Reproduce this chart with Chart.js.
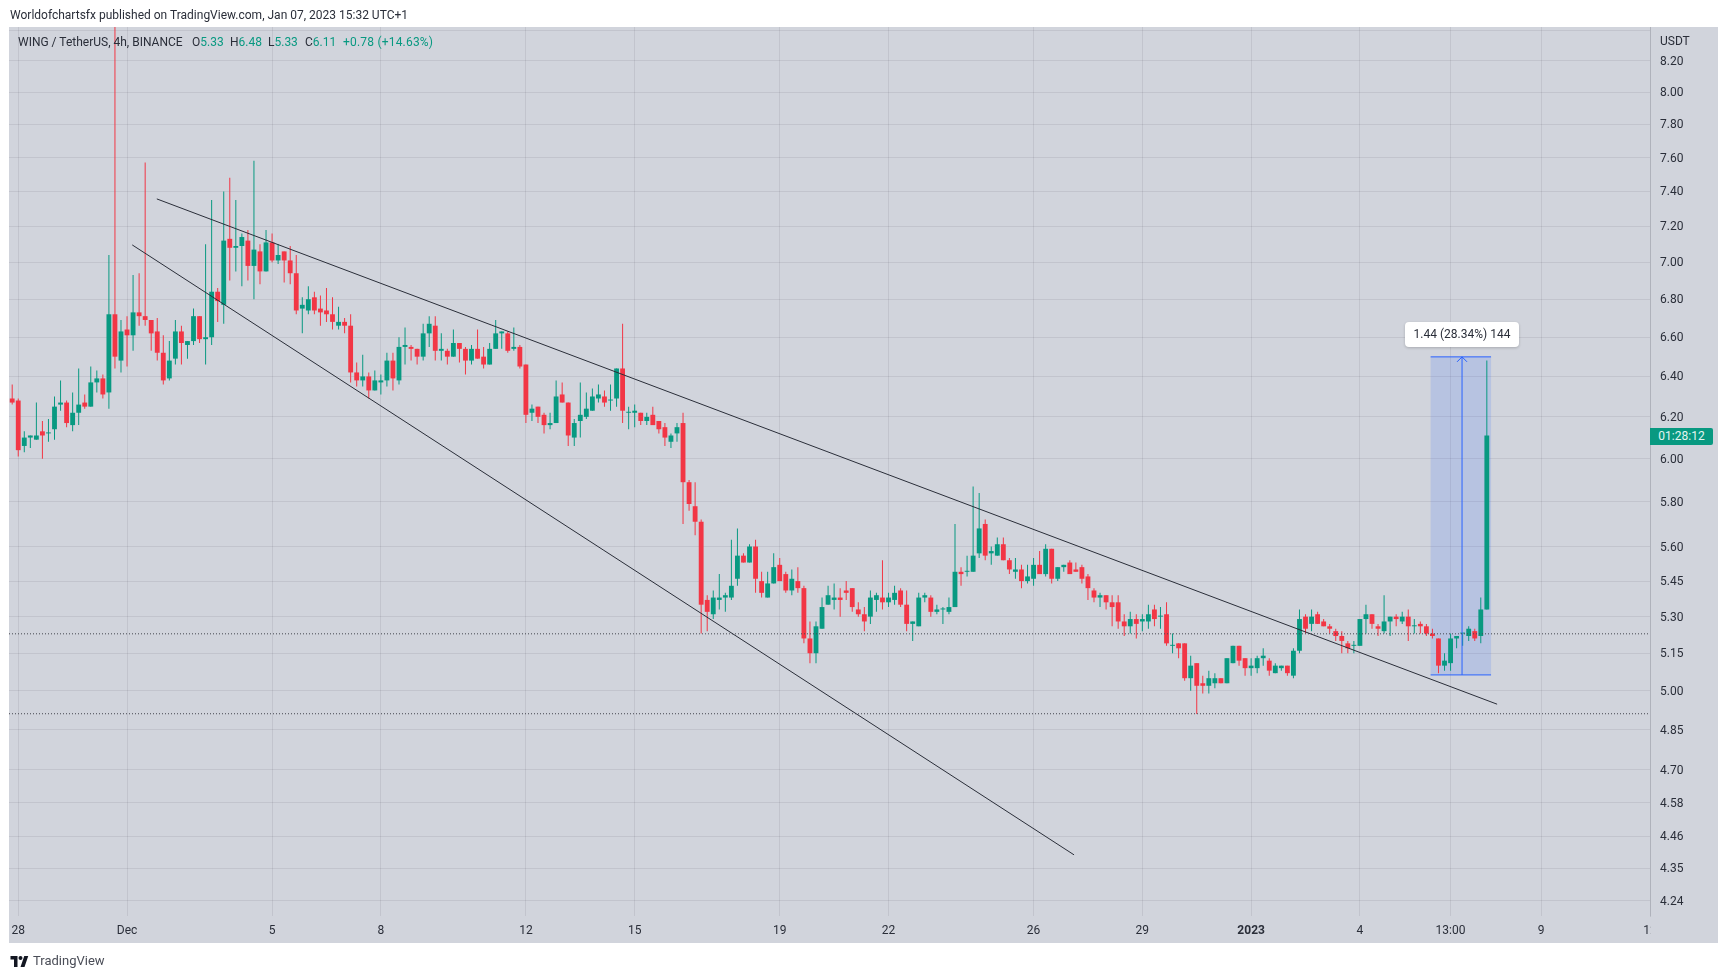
<!DOCTYPE html>
<html>
<head>
<meta charset="utf-8">
<title>WING / TetherUS</title>
<script src="https://cdn.jsdelivr.net/npm/chart.js"></script>
<style>
  html, body { margin: 0; padding: 0; background: #fff; overflow: hidden; }
  body { width: 1728px; height: 979px; position: relative; font-family: Roboto, sans-serif; font-size: 12px; color: #2a2e39; }
  canvas { position: absolute; left: 0; top: 0; }
  .abs { position: absolute; white-space: nowrap; line-height: 16px; }
  .up { color: #089981; }
  #measure { left: 1405px; top: 322px; width: 114px; height: 25px; line-height: 25px; text-align: center; background: #fff; border-radius: 4px; box-shadow: 0 1px 3px rgba(0,0,0,.2); }
  #countdown { left: 1650px; top: 428px; width: 63px; height: 17px; line-height: 17px; text-align: center; background: #089981; color: #e4f5f1; border-radius: 0 2px 2px 0; }
</style>
</head>
<body>
<canvas id="chart" width="1728" height="979"></canvas>
<div class="abs" style="left:10px;top:7px">Worldofchartsfx published on TradingView.com, Jan 07, 2023 15:32 UTC+1</div>
<div class="abs" style="left:18px;top:34px">WING / TetherUS, 4h, BINANCE</div>
<div class="abs" style="left:192px;top:34px">O<span class="up">5.33</span></div>
<div class="abs" style="left:230px;top:34px">H<span class="up">6.48</span></div>
<div class="abs" style="left:268px;top:34px">L<span class="up">5.33</span></div>
<div class="abs" style="left:305px;top:34px">C<span class="up">6.11</span></div>
<div class="abs up" style="left:343px;top:34px;letter-spacing:0.2px">+0.78 (+14.63%)</div>
<div class="abs" style="left:1660px;top:33px">USDT</div>
<div class="abs" id="measure">1.44 (28.34%) 144</div>
<div class="abs" id="countdown">01:28:12</div>
<svg class="abs" style="left:10px;top:956px" width="19" height="11" viewBox="0 0 36 22"><path fill="#131722" d="M14 22H7V7H0V0h14v22zM28 22h-8l7.5-22h8L28 22z"/><circle fill="#131722" cx="20" cy="4" r="4"/></svg>
<div class="abs" style="left:33px;top:953px;font-size:13px;color:#4a4d57">TradingView</div>
<script>
// candles are 4h apart, index 0 = Nov 28 00:00
const firstCandle = -1;
const opens = [
  6.29,6.28,6.06,6.10,6.09,6.13,6.12,6.14,6.26,6.27,
  6.16,6.22,6.27,6.25,6.37,6.39,6.32,6.72,6.48,6.64,
  6.61,6.73,6.71,6.69,6.63,6.52,6.39,6.49,6.63,6.56,
  6.58,6.71,6.59,6.60,6.84,6.77,7.13,7.08,7.09,7.12,
  6.98,7.06,6.95,7.11,7.01,7.06,7.01,6.94,6.75,6.74,
  6.81,6.75,6.74,6.72,6.66,6.68,6.66,6.42,6.38,6.40,
  6.33,6.37,6.38,6.48,6.38,6.55,6.55,6.54,6.50,6.62,
  6.66,6.53,6.53,6.50,6.57,6.54,6.48,6.54,6.50,6.46,
  6.54,6.62,6.62,6.54,6.55,6.46,6.22,6.25,6.21,6.16,
  6.17,6.31,6.27,6.10,6.18,6.20,6.23,6.29,6.30,6.28,
  6.29,6.44,6.22,6.22,6.22,6.18,6.21,6.18,6.15,6.08,
  6.12,6.17,5.89,5.78,5.71,5.37,5.31,5.37,5.38,5.38,
  5.46,5.56,5.53,5.60,5.45,5.38,5.44,5.52,5.48,5.41,
  5.45,5.42,5.21,5.15,5.25,5.35,5.37,5.38,5.41,5.42,
  5.33,5.31,5.30,5.37,5.38,5.36,5.37,5.41,5.35,5.27,
  5.26,5.38,5.38,5.32,5.33,5.32,5.34,5.49,5.49,5.49,
  5.57,5.70,5.57,5.56,5.61,5.54,5.49,5.50,5.45,5.46,
  5.52,5.48,5.59,5.46,5.51,5.53,5.50,5.51,5.47,5.41,
  5.38,5.39,5.36,5.36,5.28,5.26,5.29,5.28,5.28,5.33,
  5.30,5.31,5.18,5.19,5.19,5.05,5.11,5.03,5.02,5.03,
  5.05,5.03,5.11,5.18,5.13,5.09,5.09,5.13,5.12,5.07,
  5.09,5.10,5.06,5.16,5.30,5.27,5.31,5.28,5.26,5.24,
  5.22,5.19,5.18,5.18,5.29,5.31,5.26,5.24,5.28,5.30,
  5.28,5.30,5.26,5.27,5.26,5.23,5.21,5.10,5.11,5.21,
  5.23,5.22,5.24,5.22,5.33
];
const highs = [
  6.36,6.29,6.13,6.11,6.27,6.18,6.19,6.30,6.38,6.28,
  6.32,6.44,6.31,6.45,6.43,6.41,7.04,8.60,6.69,6.71,
  6.93,6.94,7.57,6.69,6.70,6.61,6.58,6.69,6.66,6.58,
  6.75,6.71,7.10,7.35,6.86,7.40,7.48,7.35,7.16,7.18,
  7.58,7.10,7.18,7.16,7.10,7.06,7.09,7.04,6.81,6.87,
  6.84,6.82,6.86,6.81,6.76,6.70,6.72,6.47,6.51,6.42,
  6.43,6.41,6.52,6.52,6.60,6.65,6.56,6.54,6.67,6.71,
  6.71,6.62,6.54,6.64,6.57,6.55,6.56,6.64,6.55,6.57,
  6.69,6.63,6.63,6.65,6.56,6.46,6.26,6.25,6.22,6.22,
  6.38,6.37,6.27,6.19,6.37,6.32,6.34,6.36,6.33,6.36,
  6.44,6.67,6.25,6.26,6.22,6.22,6.25,6.18,6.17,6.12,
  6.17,6.22,5.90,5.89,5.72,5.39,5.41,5.48,5.40,5.63,
  5.68,5.57,5.61,5.63,5.49,5.49,5.57,5.55,5.49,5.50,
  5.51,5.43,5.28,5.28,5.38,5.43,5.44,5.42,5.45,5.42,
  5.36,5.34,5.41,5.40,5.54,5.40,5.43,5.42,5.41,5.28,
  5.40,5.40,5.39,5.35,5.34,5.38,5.70,5.51,5.56,5.87,
  5.84,5.72,5.60,5.64,5.64,5.55,5.55,5.52,5.52,5.55,
  5.58,5.61,5.59,5.51,5.52,5.54,5.53,5.52,5.48,5.42,
  5.40,5.39,5.39,5.39,5.31,5.32,5.31,5.31,5.35,5.35,
  5.34,5.36,5.23,5.19,5.19,5.14,5.11,5.06,5.08,5.07,
  5.05,5.13,5.18,5.18,5.13,5.13,5.14,5.17,5.13,5.11,
  5.10,5.10,5.17,5.33,5.31,5.33,5.32,5.29,5.27,5.25,
  5.24,5.20,5.20,5.29,5.35,5.31,5.27,5.39,5.30,5.31,
  5.32,5.33,5.29,5.28,5.27,5.25,5.21,5.15,5.23,5.22,
  5.23,5.26,5.25,5.38,6.48
];
const lows = [
  6.26,6.01,6.03,6.05,6.09,6.00,6.08,6.09,6.23,6.15,
  6.13,6.16,6.24,6.25,6.32,6.29,6.24,6.44,6.42,6.45,
  6.53,6.66,6.66,6.53,6.48,6.36,6.38,6.46,6.46,6.49,
  6.56,6.57,6.46,6.56,6.68,6.67,6.90,6.95,6.87,6.90,
  6.80,6.88,6.95,7.00,6.99,6.89,6.88,6.72,6.62,6.72,
  6.72,6.66,6.68,6.64,6.64,6.62,6.37,6.35,6.35,6.29,
  6.33,6.31,6.35,6.33,6.36,6.46,6.48,6.46,6.48,6.55,
  6.48,6.48,6.46,6.50,6.47,6.41,6.46,6.49,6.44,6.46,
  6.54,6.54,6.52,6.53,6.44,6.17,6.18,6.17,6.12,6.14,
  6.17,6.27,6.06,6.06,6.10,6.19,6.23,6.27,6.25,6.23,
  6.25,6.17,6.14,6.15,6.16,6.16,6.16,6.12,6.06,6.05,
  6.08,5.70,5.76,5.65,5.23,5.24,5.29,5.33,5.32,5.37,
  5.43,5.53,5.53,5.40,5.38,5.38,5.44,5.45,5.40,5.39,
  5.40,5.19,5.11,5.11,5.25,5.35,5.33,5.30,5.37,5.32,
  5.30,5.24,5.27,5.32,5.33,5.34,5.35,5.34,5.24,5.20,
  5.26,5.36,5.30,5.31,5.27,5.31,5.34,5.43,5.47,5.49,
  5.55,5.54,5.52,5.56,5.54,5.48,5.46,5.42,5.44,5.43,
  5.48,5.47,5.44,5.45,5.49,5.48,5.49,5.44,5.37,5.36,
  5.34,5.33,5.26,5.25,5.22,5.23,5.21,5.24,5.25,5.26,
  5.25,5.18,5.15,5.13,5.04,5.00,4.91,4.99,4.99,5.01,
  5.03,5.03,5.11,5.10,5.06,5.06,5.07,5.10,5.06,5.07,
  5.08,5.06,5.05,5.15,5.23,5.24,5.27,5.26,5.23,5.20,
  5.15,5.15,5.15,5.18,5.23,5.25,5.22,5.23,5.22,5.26,
  5.27,5.20,5.23,5.23,5.22,5.21,5.07,5.08,5.08,5.17,
  5.18,5.20,5.20,5.19,5.33
];
const closes = [
  6.27,6.04,6.10,6.11,6.11,6.11,6.12,6.25,6.27,6.17,
  6.22,6.26,6.25,6.37,6.39,6.31,6.72,6.50,6.63,6.61,
  6.73,6.71,6.69,6.62,6.52,6.38,6.48,6.63,6.57,6.58,
  6.71,6.59,6.60,6.84,6.79,7.12,7.08,7.09,7.14,6.98,
  7.07,6.95,7.11,7.01,7.04,7.01,6.94,6.74,6.77,6.80,
  6.74,6.73,6.72,6.68,6.68,6.66,6.42,6.38,6.40,6.33,
  6.38,6.38,6.48,6.39,6.55,6.56,6.54,6.50,6.62,6.67,
  6.53,6.54,6.50,6.57,6.54,6.48,6.54,6.49,6.46,6.54,
  6.62,6.63,6.53,6.55,6.45,6.21,6.24,6.20,6.16,6.17,
  6.30,6.27,6.11,6.17,6.21,6.24,6.30,6.31,6.27,6.28,
  6.44,6.23,6.22,6.23,6.18,6.20,6.16,6.14,6.10,6.11,
  6.15,5.89,5.79,5.71,5.35,5.32,5.38,5.38,5.39,5.43,
  5.56,5.53,5.60,5.46,5.40,5.44,5.51,5.45,5.41,5.46,
  5.42,5.21,5.15,5.26,5.34,5.39,5.38,5.37,5.40,5.34,
  5.31,5.28,5.38,5.39,5.36,5.38,5.40,5.35,5.27,5.28,
  5.38,5.39,5.32,5.33,5.33,5.34,5.49,5.48,5.49,5.56,
  5.68,5.56,5.58,5.61,5.54,5.50,5.50,5.45,5.47,5.52,
  5.48,5.59,5.46,5.51,5.52,5.48,5.49,5.46,5.42,5.38,
  5.39,5.36,5.34,5.28,5.26,5.29,5.27,5.29,5.31,5.29,
  5.30,5.19,5.18,5.17,5.05,5.10,5.02,5.02,5.05,5.05,
  5.03,5.13,5.18,5.12,5.09,5.10,5.13,5.14,5.08,5.10,
  5.10,5.07,5.16,5.29,5.25,5.30,5.27,5.26,5.25,5.22,
  5.20,5.17,5.18,5.29,5.31,5.27,5.25,5.28,5.30,5.29,
  5.30,5.26,5.26,5.26,5.23,5.22,5.10,5.12,5.21,5.22,
  5.23,5.25,5.21,5.33,6.11
];
const priceTicks = [8.40,8.20,8.00,7.80,7.60,7.40,7.20,7.00,6.80,6.60,6.40,6.20,6.00,5.80,5.60,5.45,5.30,5.15,5.00,4.85,4.70,4.58,4.46,4.35,4.24];
const timeTicks = [0,18,42,60,84,102,126,144,168,186,204,222,237,252,270];
const timeLabels = ['28','Dec','5','8','12','15','19','22','26','29','2023','4','13:00','9','12'];
const upperTrendX = [22.93,244.7];
const upperTrendY = [7.357,4.948];
const lowerTrendX = [18.86,174.7];
const lowerTrendY = [7.096,4.396];
const priceLines = [5.229,4.911];
const measureX = [233.7,238.9,243.7];
const measureY = [5.063,6.499];

const GREEN = '#089981';
const RED = '#f23645';
const PANE = '#d1d4dc';
const GRID = 'rgba(42,46,57,0.09)';
const TEXT = '#2a2e39';
const BLUE = '#2962ff';

const xOf = (k) => firstCandle + k;
const candleColors = opens.map((o, k) => (closes[k] > o || closes[k] === o ? GREEN : RED));
const wicks = highs.map((h, k) => ({ x: xOf(k), y: [lows[k], h] }));
const bodies = opens.map((o, k) => ({ x: xOf(k), y: [o, closes[k]] }));

function lineSet(points, color, width, dash) {
  return {
    type: 'line', data: points, borderColor: color, borderWidth: width, borderDash: dash || [],
    pointRadius: 0, tension: 0, fill: false, order: 0
  };
}

const xMin = -1.53;
const xMax = 270;

const paneBackground = {
  id: 'paneBackground',
  beforeDraw(chart) {
    const c = chart.ctx;
    c.save();
    c.fillStyle = PANE;
    c.fillRect(9, 27, 1709, 916);
    c.restore();
  },
  // rectangle of the price range tool goes under the candles
  beforeDatasetsDraw(chart) {
    const { x, y } = chart.scales;
    const c = chart.ctx;
    c.save();
    c.fillStyle = 'rgba(41,98,255,0.15)';
    const left = x.getPixelForValue(measureX[0]);
    const top = y.getPixelForValue(measureY[1]);
    c.fillRect(left, top, x.getPixelForValue(measureX[2]) - left, y.getPixelForValue(measureY[0]) - top);
    c.restore();
  },
  afterDraw(chart) {
    const { x, y, } = chart.scales;
    const c = chart.ctx;
    c.save();
    // arrow head
    const ax = x.getPixelForValue(measureX[1]);
    const ay = y.getPixelForValue(measureY[1]);
    c.strokeStyle = BLUE;
    c.lineWidth = 1;
    c.beginPath();
    c.moveTo(ax - 5, ay + 5);
    c.lineTo(ax, ay);
    c.lineTo(ax + 5, ay + 5);
    c.stroke();
    // the last time label is cut by the price scale
    c.fillStyle = PANE;
    c.fillRect(chart.chartArea.right + 0.5, chart.chartArea.bottom + 1, 67, 26);
    c.restore();
  }
};

new Chart(document.getElementById('chart'), {
  type: 'bar',
  data: {
    datasets: [
      lineSet(upperTrendX.map((v, k) => ({ x: v, y: upperTrendY[k] })), '#2a2e39', 1),
      lineSet(lowerTrendX.map((v, k) => ({ x: v, y: lowerTrendY[k] })), '#2a2e39', 1),
      lineSet([{ x: xMin, y: priceLines[0] }, { x: xMax, y: priceLines[0] }], '#44464f', 1, [1, 2]),
      lineSet([{ x: xMin, y: priceLines[1] }, { x: xMax, y: priceLines[1] }], '#44464f', 1, [1, 2]),
      lineSet([{ x: measureX[0], y: measureY[0] }, { x: measureX[2], y: measureY[0] }], BLUE, 1),
      lineSet([{ x: measureX[0], y: measureY[1] }, { x: measureX[2], y: measureY[1] }], BLUE, 1),
      lineSet([{ x: measureX[1], y: measureY[0] }, { x: measureX[1], y: measureY[1] }], BLUE, 1),
      { data: bodies, backgroundColor: candleColors, grouped: false, barPercentage: 1, maxBarThickness: 5, minBarLength: 1, borderWidth: 0, order: 1 },
      { data: wicks, backgroundColor: candleColors, grouped: false, barPercentage: 1, maxBarThickness: 1, borderWidth: 0, order: 2 }
    ]
  },
  options: {
    responsive: false,
    animation: false,
    devicePixelRatio: 1,
    layout: { padding: { left: 9, top: 27, right: 10, bottom: 36 } },
    plugins: { legend: { display: false }, tooltip: { enabled: false } },
    scales: {
      x: {
        type: 'linear', min: xMin, max: xMax, offset: false,
        grid: { offset: false, color: GRID, drawTicks: false },
        border: { display: false },
        afterBuildTicks: (axis) => { axis.ticks = timeTicks.map((v) => ({ value: v })); },
        afterFit: (axis) => { axis.height = 27; },
        ticks: {
          autoSkip: false, maxRotation: 0, padding: 8, color: TEXT,
          font: (ctx) => ({ family: 'Roboto', size: 12, weight: ctx.tick && ctx.tick.value === 204 ? 'bold' : 'normal' }),
          callback: (v) => timeLabels[timeTicks.indexOf(v)]
        }
      },
      y: {
        type: 'logarithmic', position: 'right', min: 4.19, max: 8.42, beginAtZero: false,
        grid: { color: GRID, drawTicks: false },
        border: { display: true, color: 'rgba(42,46,57,0.12)' },
        afterBuildTicks: (axis) => { axis.ticks = priceTicks.map((v) => ({ value: v })); },
        afterFit: (axis) => { axis.width = 68; },
        ticks: {
          autoSkip: false, padding: 10, labelOffset: 1, color: TEXT, font: { family: 'Roboto', size: 12 },
          callback: (v) => (v === 8.40 ? '' : Number(v).toFixed(2))
        }
      }
    }
  },
  plugins: [paneBackground]
});
</script>
</body>
</html>
